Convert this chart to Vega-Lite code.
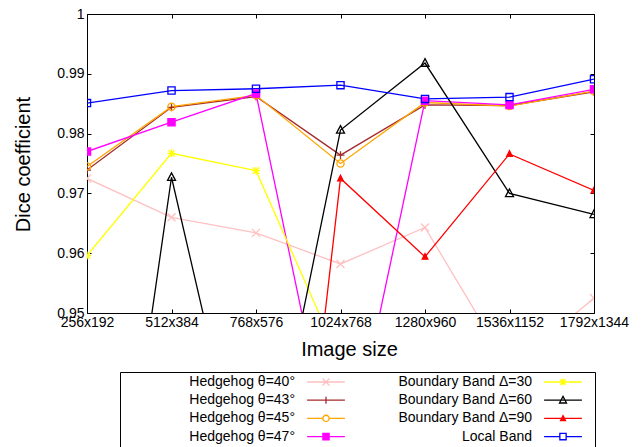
{
  "$schema": "https://vega.github.io/schema/vega-lite/v6.json",
  "autosize": {"type": "none"},
  "padding": {"left": 87, "top": 14, "right": 48, "bottom": 134},
  "width": 507,
  "height": 299,
  "background": "white",
  "config": {
    "view": {"stroke": "black", "strokeWidth": 1},
    "font": "Liberation Sans",
    "axis": {
      "labelFont": "Liberation Sans", "labelFontSize": 14, "labelColor": "black",
      "titleFont": "Liberation Sans", "titleFontSize": 20, "titleFontWeight": "normal", "titleColor": "black",
      "domain": false, "grid": false, "tickColor": "black", "tickSize": -4, "tickWidth": 1
    },
    "legend": {
      "orient": "none", "legendX": 33, "legendY": 358, "direction": "vertical", "columns": 2,
      "strokeColor": "black", "padding": 3, "fillColor": "white",
      "labelFont": "Liberation Sans", "labelFontSize": 14, "labelColor": "black", "labelAlign": "right", "labelOffset": -38, "labelLimit": 400,
      "symbolSize": 49, "symbolOffset": 196, "symbolStrokeWidth": 1.3, "rowPadding": 4.2, "columnPadding": 5
    }
  },
  "data": {"values": [
    {"size": "256x192", "series": "Hedgehog θ=40°", "dice": 0.9725},
    {"size": "512x384", "series": "Hedgehog θ=40°", "dice": 0.9660},
    {"size": "768x576", "series": "Hedgehog θ=40°", "dice": 0.9634},
    {"size": "1024x768", "series": "Hedgehog θ=40°", "dice": 0.9582},
    {"size": "1280x960", "series": "Hedgehog θ=40°", "dice": 0.9643},
    {"size": "1536x1152", "series": "Hedgehog θ=40°", "dice": 0.9407},
    {"size": "1792x1344", "series": "Hedgehog θ=40°", "dice": 0.9525},
    {"size": "256x192", "series": "Hedgehog θ=43°", "dice": 0.9739},
    {"size": "512x384", "series": "Hedgehog θ=43°", "dice": 0.9844},
    {"size": "768x576", "series": "Hedgehog θ=43°", "dice": 0.9862},
    {"size": "1024x768", "series": "Hedgehog θ=43°", "dice": 0.9764},
    {"size": "1280x960", "series": "Hedgehog θ=43°", "dice": 0.9848},
    {"size": "1536x1152", "series": "Hedgehog θ=43°", "dice": 0.9847},
    {"size": "1792x1344", "series": "Hedgehog θ=43°", "dice": 0.9870},
    {"size": "256x192", "series": "Hedgehog θ=45°", "dice": 0.9745},
    {"size": "512x384", "series": "Hedgehog θ=45°", "dice": 0.9845},
    {"size": "768x576", "series": "Hedgehog θ=45°", "dice": 0.9864},
    {"size": "1024x768", "series": "Hedgehog θ=45°", "dice": 0.9750},
    {"size": "1280x960", "series": "Hedgehog θ=45°", "dice": 0.9852},
    {"size": "1536x1152", "series": "Hedgehog θ=45°", "dice": 0.9846},
    {"size": "1792x1344", "series": "Hedgehog θ=45°", "dice": 0.9871},
    {"size": "256x192", "series": "Hedgehog θ=47°", "dice": 0.9770},
    {"size": "512x384", "series": "Hedgehog θ=47°", "dice": 0.9819},
    {"size": "768x576", "series": "Hedgehog θ=47°", "dice": 0.9867},
    {"size": "1024x768", "series": "Hedgehog θ=47°", "dice": 0.9190},
    {"size": "1280x960", "series": "Hedgehog θ=47°", "dice": 0.9855},
    {"size": "1536x1152", "series": "Hedgehog θ=47°", "dice": 0.9848},
    {"size": "1792x1344", "series": "Hedgehog θ=47°", "dice": 0.9874},
    {"size": "256x192", "series": "Boundary Band Δ=30", "dice": 0.9596},
    {"size": "512x384", "series": "Boundary Band Δ=30", "dice": 0.9767},
    {"size": "768x576", "series": "Boundary Band Δ=30", "dice": 0.9738},
    {"size": "1024x768", "series": "Boundary Band Δ=30", "dice": 0.9418},
    {"size": "1280x960", "series": "Boundary Band Δ=30", "dice": 0.9300},
    {"size": "1536x1152", "series": "Boundary Band Δ=30", "dice": 0.9300},
    {"size": "1792x1344", "series": "Boundary Band Δ=30", "dice": 0.9300},
    {"size": "256x192", "series": "Boundary Band Δ=60", "dice": 0.8747},
    {"size": "512x384", "series": "Boundary Band Δ=60", "dice": 0.9727},
    {"size": "768x576", "series": "Boundary Band Δ=60", "dice": 0.9118},
    {"size": "1024x768", "series": "Boundary Band Δ=60", "dice": 0.9806},
    {"size": "1280x960", "series": "Boundary Band Δ=60", "dice": 0.9918},
    {"size": "1536x1152", "series": "Boundary Band Δ=60", "dice": 0.9700},
    {"size": "1792x1344", "series": "Boundary Band Δ=60", "dice": 0.9665},
    {"size": "256x192", "series": "Boundary Band Δ=90", "dice": 0.8500},
    {"size": "512x384", "series": "Boundary Band Δ=90", "dice": 0.8500},
    {"size": "768x576", "series": "Boundary Band Δ=90", "dice": 0.8490},
    {"size": "1024x768", "series": "Boundary Band Δ=90", "dice": 0.9725},
    {"size": "1280x960", "series": "Boundary Band Δ=90", "dice": 0.9594},
    {"size": "1536x1152", "series": "Boundary Band Δ=90", "dice": 0.9766},
    {"size": "1792x1344", "series": "Boundary Band Δ=90", "dice": 0.9705},
    {"size": "256x192", "series": "Local Band", "dice": 0.9851},
    {"size": "512x384", "series": "Local Band", "dice": 0.9872},
    {"size": "768x576", "series": "Local Band", "dice": 0.9875},
    {"size": "1024x768", "series": "Local Band", "dice": 0.9881},
    {"size": "1280x960", "series": "Local Band", "dice": 0.9858},
    {"size": "1536x1152", "series": "Local Band", "dice": 0.9861},
    {"size": "1792x1344", "series": "Local Band", "dice": 0.9891}
  ]},
  "resolve": {"axis": {"x": "independent", "y": "independent"}, "scale": {"shape": "independent", "color": "independent"}},
  "layer": [
    {
      "mark": {"type": "line", "clip": true, "strokeWidth": 1.3},
      "encoding": {
        "x": {"field": "size", "type": "ordinal", "sort": null,
              "scale": {"type": "point", "padding": 0},
              "axis": {"orient": "bottom", "title": "Image size", "labelAngle": 0, "labelPadding": 6, "labelFlush": false, "labelOverlap": false,
                       "titleX": 262, "titleY": 42, "titleBaseline": "alphabetic", "titleAnchor": null}},
        "y": {"field": "dice", "type": "quantitative",
              "scale": {"domain": [0.95, 1], "zero": false, "nice": false},
              "axis": {"orient": "left", "title": "Dice coefficient", "values": [0.95, 0.96, 0.97, 0.98, 0.99, 1], "format": "~g", "labelPadding": 7,
                       "titleX": -64, "titleY": 150, "titleBaseline": "middle", "titleAngle": -90, "titleAnchor": null}},
        "color": {"field": "series", "type": "nominal", "legend": null,
          "scale": {
            "domain": ["Hedgehog θ=40°", "Hedgehog θ=43°", "Hedgehog θ=45°", "Hedgehog θ=47°", "Boundary Band Δ=30", "Boundary Band Δ=60", "Boundary Band Δ=90", "Local Band"],
            "range": ["#ffc0c0", "#a52a2a", "#ffa500", "#ff00ff", "#ffff00", "#000000", "#ff0000", "#0000ff"]
          }
        }
      }
    },
    {
      "mark": {"type": "point", "clip": true, "filled": false, "size": 64, "strokeWidth": 1.3, "opacity": 1},
      "encoding": {
        "x": {"field": "size", "type": "ordinal", "sort": null,
              "axis": {"orient": "top", "labels": false, "title": null}},
        "y": {"field": "dice", "type": "quantitative",
              "axis": {"orient": "right", "labels": false, "title": null, "values": [0.95, 0.96, 0.97, 0.98, 0.99, 1]}},
        "color": {"field": "series", "type": "nominal", "legend": null,
          "scale": {
            "domain": ["Hedgehog θ=40°", "Hedgehog θ=43°", "Hedgehog θ=45°", "Hedgehog θ=47°", "Boundary Band Δ=30", "Boundary Band Δ=60", "Boundary Band Δ=90", "Local Band"],
            "range": ["#ffc0c0", "#a52a2a", "#ffa500", "#ff00ff", "#ffff00", "#000000", "#ff0000", "#0000ff"]
          }},
        "shape": {"field": "series", "type": "nominal", "legend": null,
          "scale": {
            "domain": ["Hedgehog θ=40°", "Hedgehog θ=43°", "Hedgehog θ=45°", "Hedgehog θ=47°", "Boundary Band Δ=30", "Boundary Band Δ=60", "Boundary Band Δ=90", "Local Band"],
            "range": ["M-1,-1L1,1M-1,1L1,-1", "M-1,0H1M0,-1V1", "M0.9,0A0.9,0.9,0,1,1,-0.9,0A0.9,0.9,0,1,1,0.9,0", "M-0.9,-0.9H0.9V0.9H-0.9Z", "M-1,0H1M0,-1V1M-0.8,-0.8L0.8,0.8M-0.8,0.8L0.8,-0.8", "M0,-1.1L1,0.8H-1Z", "M0,-0.8L0.7,0.6H-0.7Z", "M-0.9,-0.9H0.9V0.9H-0.9Z"]
          }},
        "fill": {"field": "series", "type": "nominal", "legend": null,
          "scale": {
            "domain": ["Hedgehog θ=40°", "Hedgehog θ=43°", "Hedgehog θ=45°", "Hedgehog θ=47°", "Boundary Band Δ=30", "Boundary Band Δ=60", "Boundary Band Δ=90", "Local Band"],
            "range": ["transparent", "transparent", "transparent", "#ff00ff", "transparent", "transparent", "#ff0000", "transparent"]
          }}
      }
    },
    {
      "transform": [{"filter": "false"}],
      "mark": {"type": "point", "filled": false, "strokeWidth": 1.3, "opacity": 1},
      "encoding": {
        "x": {"field": "size", "type": "ordinal", "sort": null, "axis": null},
        "y": {"field": "dice", "type": "quantitative", "axis": null},
        "color": {"field": "series", "type": "nominal", "legend": {"title": null},
          "scale": {
            "domain": ["Hedgehog θ=40°", "Hedgehog θ=43°", "Hedgehog θ=45°", "Hedgehog θ=47°", "Boundary Band Δ=30", "Boundary Band Δ=60", "Boundary Band Δ=90", "Local Band"],
            "range": ["#ffc0c0", "#a52a2a", "#ffa500", "#ff00ff", "#ffff00", "#000000", "#ff0000", "#0000ff"]
          }},
        "shape": {"field": "series", "type": "nominal",
          "legend": {"title": null},
          "scale": {
            "domain": ["Hedgehog θ=40°", "Hedgehog θ=43°", "Hedgehog θ=45°", "Hedgehog θ=47°", "Boundary Band Δ=30", "Boundary Band Δ=60", "Boundary Band Δ=90", "Local Band"],
            "range": [
              "M-5.4,0H5.4M-1,-1L1,1M-1,1L1,-1M7.5,0",
              "M-5.4,0H5.4M-1,0H1M0,-1V1M7.5,0",
              "M-5.4,0H-0.9M0.9,0H5.4M0.9,0A0.9,0.9,0,1,1,-0.9,0A0.9,0.9,0,1,1,0.9,0M7.5,0",
              "M-5.4,0H5.4M-0.9,-0.9H0.9V0.9H-0.9ZM-0.9,-0.6H0.9M-0.9,-0.3H0.9M-0.9,0.3H0.9M-0.9,0.6H0.9M7.5,0",
              "M-5.4,0H5.4M0,-1V1M-0.8,-0.8L0.8,0.8M-0.8,0.8L0.8,-0.8M7.5,0",
              "M-5.4,0H5.4M0,-1.1L1,0.8H-1ZM7.5,0",
              "M-5.4,0H5.4M0,-0.8L0.7,0.6H-0.7ZM-0.14,-0.5H0.14M-0.3,-0.2H0.3M-0.45,0.1H0.45M-0.57,0.35H0.57M7.5,0",
              "M-5.4,0H-0.9M0.9,0H5.4M-0.9,-0.9H0.9V0.9H-0.9ZM7.5,0"
            ]
          }}
      }
    }
  ]
}
